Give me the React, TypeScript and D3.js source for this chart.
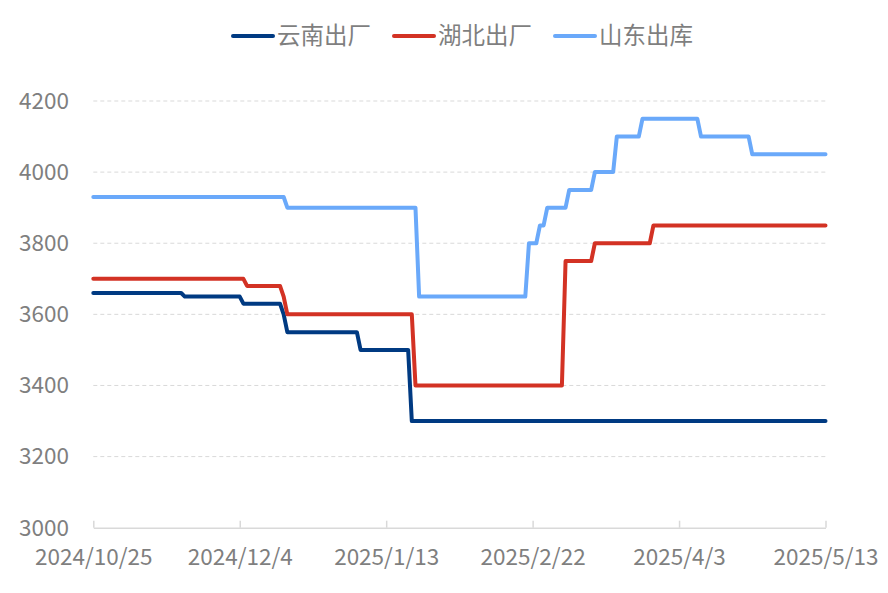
import React, { useEffect, useRef } from "react";
import * as d3 from "d3";

// series: [date, value] change points
const yunnan: [string, number][] = [
  ["2024-10-25", 3660],
  ["2024-11-18", 3660],
  ["2024-11-19", 3650],
  ["2024-12-04", 3650],
  ["2024-12-05", 3630],
  ["2024-12-15", 3630],
  ["2024-12-16", 3600],
  ["2024-12-17", 3550],
  ["2025-01-05", 3550],
  ["2025-01-06", 3500],
  ["2025-01-19", 3500],
  ["2025-01-20", 3300],
  ["2025-05-13", 3300],
];

const hubei: [string, number][] = [
  ["2024-10-25", 3700],
  ["2024-12-05", 3700],
  ["2024-12-06", 3680],
  ["2024-12-15", 3680],
  ["2024-12-16", 3650],
  ["2024-12-17", 3600],
  ["2025-01-20", 3600],
  ["2025-01-21", 3400],
  ["2025-03-02", 3400],
  ["2025-03-03", 3750],
  ["2025-03-10", 3750],
  ["2025-03-11", 3800],
  ["2025-03-26", 3800],
  ["2025-03-27", 3850],
  ["2025-05-13", 3850],
];

const shandong: [string, number][] = [
  ["2024-10-25", 3930],
  ["2024-12-16", 3930],
  ["2024-12-17", 3900],
  ["2025-01-21", 3900],
  ["2025-01-22", 3650],
  ["2025-02-20", 3650],
  ["2025-02-21", 3800],
  ["2025-02-23", 3800],
  ["2025-02-24", 3850],
  ["2025-02-25", 3850],
  ["2025-02-26", 3900],
  ["2025-03-03", 3900],
  ["2025-03-04", 3950],
  ["2025-03-10", 3950],
  ["2025-03-11", 4000],
  ["2025-03-16", 4000],
  ["2025-03-17", 4100],
  ["2025-03-23", 4100],
  ["2025-03-24", 4150],
  ["2025-04-08", 4150],
  ["2025-04-09", 4100],
  ["2025-04-22", 4100],
  ["2025-04-23", 4050],
  ["2025-05-13", 4050],
];

const seriesNames = ["云南出厂", "湖北出厂", "山东出库"];
const seriesColors = ["#003A82", "#D33224", "#6AA9FA"];
const xTicks = ["2024-10-25", "2024-12-04", "2025-01-13", "2025-02-22", "2025-04-03", "2025-05-13"];
const yTicks = [3000, 3200, 3400, 3600, 3800, 4000, 4200];

const W = 888;
const H = 593;
const FONT = "'Noto Sans CJK SC', 'Open Sans', sans-serif";
const TEXT = "#7f7f7f";

const parse = (s: string) => new Date(s + "T00:00:00Z");
const fmt = (d: Date) => `${d.getUTCFullYear()}/${d.getUTCMonth() + 1}/${d.getUTCDate()}`;

export default function App() {
  const ref = useRef<SVGSVGElement | null>(null);

  useEffect(() => {
    const svg = d3.select(ref.current);
    svg.selectAll("*").remove();

    const x = d3
      .scaleUtc()
      .domain([parse(xTicks[0]), parse(xTicks[xTicks.length - 1])])
      .range([93.3, 825.5]);
    const y = d3.scaleLinear().domain([3000, 4200]).range([527.7, 101]);

    // grid
    svg
      .append("g")
      .selectAll("line")
      .data(yTicks.slice(1))
      .enter()
      .append("line")
      .attr("x1", x.range()[0])
      .attr("x2", x.range()[1])
      .attr("y1", (d) => y(d))
      .attr("y2", (d) => y(d))
      .attr("stroke", "#d9d9d9")
      .attr("stroke-width", 1)
      .attr("stroke-dasharray", "4,3");

    // x axis
    const xAxis = svg
      .append("g")
      .attr("transform", `translate(0,${y(3000)})`)
      .call(
        d3
          .axisBottom(x)
          .tickValues(xTicks.map(parse))
          .tickSize(-7)
          .tickSizeOuter(0)
          .tickPadding(21)
          .tickFormat((d) => fmt(d as Date))
      );
    xAxis.select(".domain").attr("stroke", "#d9d9d9").attr("stroke-width", 1.5);
    xAxis.selectAll(".tick line").attr("stroke", "#d9d9d9").attr("stroke-width", 1.5);
    xAxis
      .selectAll(".tick text")
      .attr("fill", TEXT)
      .attr("font-size", 22.5)
      .attr("font-family", FONT);

    // y labels
    svg
      .append("g")
      .selectAll("text")
      .data(yTicks)
      .enter()
      .append("text")
      .attr("x", 69)
      .attr("y", (d) => y(d))
      .attr("dy", "0.35em")
      .attr("text-anchor", "end")
      .attr("fill", TEXT)
      .attr("font-size", 22.5)
      .attr("font-family", FONT)
      .text((d) => d);

    const line = d3
      .line<[string, number]>()
      .x((d) => x(parse(d[0])))
      .y((d) => y(d[1]));

    [yunnan, hubei, shandong].forEach((s, i) => {
      svg
        .append("path")
        .datum(s)
        .attr("fill", "none")
        .attr("stroke", seriesColors[i])
        .attr("stroke-width", 4)
        .attr("stroke-linejoin", "round")
        .attr("stroke-linecap", "round")
        .attr("d", line);
    });

    // legend
    const legendX = [233, 394, 555];
    const lg = svg
      .append("g")
      .selectAll("g")
      .data(seriesNames)
      .enter()
      .append("g")
      .attr("transform", (_, i) => `translate(${legendX[i]},36)`);
    lg.append("line")
      .attr("x1", 0)
      .attr("x2", 40)
      .attr("stroke", (_, i) => seriesColors[i])
      .attr("stroke-width", 4)
      .attr("stroke-linecap", "round");
    lg.append("text")
      .attr("x", 44)
      .attr("dy", "0.36em")
      .attr("fill", TEXT)
      .attr("font-size", 23.5)
      .attr("font-family", FONT)
      .text((d) => d);
  }, []);

  return (
    <svg
      ref={ref}
      width={W}
      height={H}
      style={{ position: "absolute", left: 0, top: 0, background: "#fff" }}
    />
  );
}
